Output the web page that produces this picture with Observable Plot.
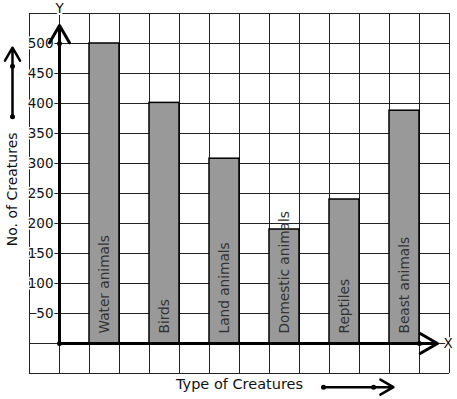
<!DOCTYPE html>
<html><head><meta charset="utf-8">
<script src="https://cdn.jsdelivr.net/npm/d3@7"></script>
<script src="https://cdn.jsdelivr.net/npm/@observablehq/plot@0.6"></script>
<style>body{margin:0;background:#fff}</style>
</head><body><div id="chart"></div>
<script>
const categories = ["Water animals","Birds","Land animals","Domestic animals","Reptiles","Beast animals"];
const counts = [500, 401, 308, 190, 240, 388];
const yTicks = [50,100,150,200,250,300,350,400,450,500];
const gridX = d3.range(-1, 14, 1);
const gridY = d3.range(-50, 551, 50);

const bars = categories.map((c, i) => ({cat: c, v: counts[i], x1: 2*i+1, x2: 2*i+2}));
const font = "DejaVu Sans";

const chart = Plot.plot({
  width: 457, height: 399,
  marginLeft: 29, marginRight: 8, marginTop: 13, marginBottom: 26,
  x: {type: "linear", domain: [-1, 13], axis: null},
  y: {type: "linear", domain: [-50, 550], axis: null},
  style: {fontFamily: font, background: "#fff", overflow: "visible"},
  marks: [
    Plot.ruleX(gridX, {x: d => d, y1: -50, y2: 550, stroke: "#222", strokeWidth: 1, strokeOpacity: 1}),
    Plot.ruleY(gridY, {y: d => d, x1: -1, x2: 13, stroke: "#222", strokeWidth: 1, strokeOpacity: 1}),
    Plot.rectY(bars, {x1: "x1", x2: "x2", y1: 0, y2: "v", fill: "#999", stroke: "#000", strokeWidth: 1.5}),
    Plot.text(bars, {x: d => (d.x1 + d.x2) / 2, y: 0, text: "cat", rotate: -90, textAnchor: "start", dy: -10, fontSize: 13.7, fill: "#333", fontFamily: font}),
    Plot.text(yTicks, {x: -0.2, y: d => d, text: d => String(d), textAnchor: "end", fontSize: 13.5, fill: "#111", stroke: "white", strokeWidth: 3, fontFamily: font}),
    // axes
    Plot.arrow([0], {x1: 0, y1: 0, x2: 12.6, y2: 0, stroke: "#000", strokeWidth: 3, headLength: 10, headAngle: 60, bend: 0}),
    Plot.arrow([0], {x1: 0, y1: 0, x2: 0, y2: 530, stroke: "#000", strokeWidth: 3, headLength: 10, headAngle: 60, bend: 0}),
    Plot.dot([[0,0],[0,500],[12,0]], {x: d => d[0], y: d => d[1], r: 2.5, fill: "#000"}),
    Plot.text(["Y"], {x: 0, y: 558, text: d => d, fontSize: 13.5, fill: "#111", stroke: "white", strokeWidth: 4, fontFamily: font}),
    Plot.text(["X"], {x: 12.95, y: 0, text: d => d, fontSize: 13.5, fill: "#111", stroke: "white", strokeWidth: 3, fontFamily: font}),
    // y title and arrow
    Plot.text(["No. of Creatures"], {x: -1.567, y: 257, text: d => d, rotate: -90, fontSize: 14, fill: "#111", fontFamily: font}),
    Plot.arrow([0], {x1: -1.567, y1: 378, x2: -1.567, y2: 493, stroke: "#000", strokeWidth: 2.5, headLength: 9, headAngle: 60, bend: 0}),
    Plot.dot([378, 462], {x: -1.567, y: d => d, r: 2.5, fill: "#000"}),
    // x title and arrow
    Plot.text(["Type of Creatures"], {x: 6.0, y: -68, text: d => d, fontSize: 14.5, fill: "#111", fontFamily: font}),
    Plot.arrow([0], {x1: 8.8, y1: -72.8, x2: 11.13, y2: -72.8, stroke: "#000", strokeWidth: 2.5, headLength: 9, headAngle: 60, bend: 0}),
    Plot.dot([8.8, 10.47], {x: d => d, y: -72.8, r: 2.5, fill: "#000"})
  ]
});
document.getElementById("chart").appendChild(chart);
</script>
</body></html>
